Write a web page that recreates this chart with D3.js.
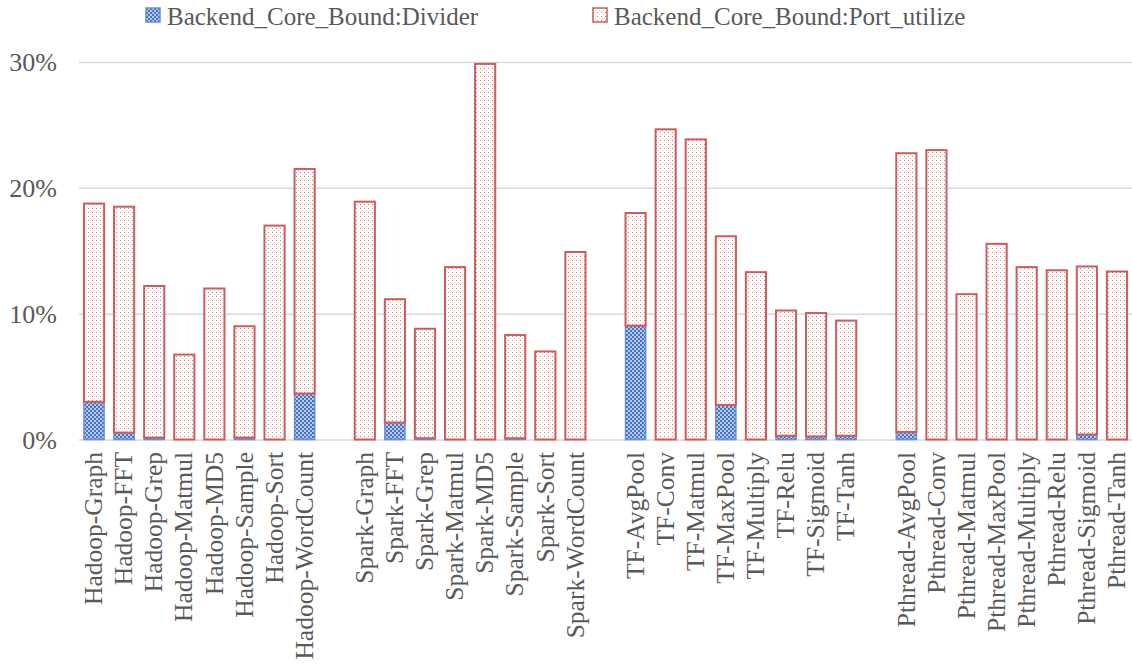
<!DOCTYPE html>
<html>
<head>
<meta charset="utf-8">
<script src="https://cdn.jsdelivr.net/npm/d3@7"></script>
<style>
    body { margin: 0; background: #fff; }
</style>
</head>
<body>
<svg id="chart"></svg>
<script>
// categories, one array per framework (a blank slot goes between groups)
const hadoopCats = ["Hadoop-Graph", "Hadoop-FFT", "Hadoop-Grep", "Hadoop-Matmul", "Hadoop-MD5", "Hadoop-Sample", "Hadoop-Sort", "Hadoop-WordCount"];
const sparkCats = ["Spark-Graph", "Spark-FFT", "Spark-Grep", "Spark-Matmul", "Spark-MD5", "Spark-Sample", "Spark-Sort", "Spark-WordCount"];
const tfCats = ["TF-AvgPool", "TF-Conv", "TF-Matmul", "TF-MaxPool", "TF-Multiply", "TF-Relu", "TF-Sigmoid", "TF-Tanh"];
const pthreadCats = ["Pthread-AvgPool", "Pthread-Conv", "Pthread-Matmul", "Pthread-MaxPool", "Pthread-Multiply", "Pthread-Relu", "Pthread-Sigmoid", "Pthread-Tanh"];

// values in percent, same order as the categories above
const dividerValues = [
    3.0, 0.55, 0.15, 0, 0, 0.15, 0, 3.65,
    0, 1.35, 0.1, 0, 0, 0.1, 0, 0,
    9.05, 0, 0, 2.75, 0, 0.3, 0.25, 0.3,
    0.6, 0, 0, 0, 0, 0, 0.4, 0
];
const portValues = [
    15.75, 17.95, 12.05, 6.75, 12.0, 8.85, 17.0, 17.85,
    18.9, 9.8, 8.7, 13.7, 29.85, 8.2, 7.0, 14.9,
    8.95, 24.65, 23.85, 13.4, 13.3, 9.95, 9.8, 9.15,
    22.15, 23.0, 11.55, 15.55, 13.7, 13.45, 13.35, 13.35
];

const seriesKeys = ["divider", "port"];
const seriesNames = ["Backend_Core_Bound:Divider", "Backend_Core_Bound:Port_utilize"];
const yTicks = [0, 10, 20, 30];

const width = 1132, height = 669;
const serif = '"Liberation Serif", "Times New Roman", serif';
const textColor = "#595959";

const groups = [hadoopCats, sparkCats, tfCats, pthreadCats];
const categories = groups.flat();
const domain = groups.flatMap((g, i) => i < groups.length - 1 ? [...g, "gap" + i] : g);

const table = categories.map((c, i) => ({ name: c, divider: dividerValues[i], port: portValues[i] }));
const stacked = d3.stack().keys(seriesKeys)(table);

const svg = d3.select("#chart")
    .attr("width", width)
    .attr("height", height)
    .attr("viewBox", `0 0 ${width} ${height}`);

// fill patterns
const defs = svg.append("defs");
const blue = defs.append("pattern")
    .attr("id", "pat-divider")
    .attr("width", 4).attr("height", 4)
    .attr("patternUnits", "userSpaceOnUse");
blue.append("rect").attr("width", 4).attr("height", 4).attr("fill", "#b9cbea");
blue.append("rect").attr("width", 2).attr("height", 2).attr("fill", "#4472c4");
blue.append("rect").attr("x", 2).attr("y", 2).attr("width", 2).attr("height", 2).attr("fill", "#4472c4");

const red = defs.append("pattern")
    .attr("id", "pat-port")
    .attr("width", 4).attr("height", 4)
    .attr("patternUnits", "userSpaceOnUse");
red.append("rect").attr("width", 4).attr("height", 4).attr("fill", "#fff");
red.append("rect").attr("width", 1).attr("height", 1).attr("fill", "#e27a7a");
red.append("rect").attr("x", 2).attr("y", 2).attr("width", 1).attr("height", 1).attr("fill", "#f6cfcf");

const fills = { divider: "url(#pat-divider)", port: "url(#pat-port)" };
const strokes = { divider: "#6a90d2", port: "#cd5c5c" };

const x = d3.scaleBand()
    .domain(domain)
    .range([79, 1132])
    .paddingInner(0.33)
    .paddingOuter(0.165);

const y = d3.scaleLinear()
    .domain([0, 30])
    .range([439.5, 62]);

// gridlines + y labels
const yAxis = svg.append("g")
    .attr("transform", "translate(79,0)")
    .call(d3.axisLeft(y).tickValues(yTicks).tickSize(-(1132 - 79)).tickFormat(d => d + "%"));
yAxis.select(".domain").remove();
yAxis.selectAll(".tick line").attr("stroke", "#d9d9d9").attr("stroke-width", 1.5);
yAxis.selectAll(".tick text")
    .attr("x", -22)
    .attr("dy", "0.34em")
    .style("font-family", serif)
    .style("font-size", "26px")
    .style("fill", textColor);

// bars
svg.append("g")
    .selectAll("g")
    .data(stacked)
    .join("g")
    .attr("fill", d => fills[d.key])
    .attr("stroke", d => strokes[d.key])
    .attr("stroke-width", d => d.key === "port" ? 2 : 1.5)
    .selectAll("rect")
    .data(d => d.filter(s => s[1] - s[0] > 0))
    .join("rect")
    .attr("x", d => x(d.data.name))
    .attr("y", d => y(d[1]))
    .attr("width", x.bandwidth())
    .attr("height", d => y(d[0]) - y(d[1]));

// category labels
svg.append("g")
    .selectAll("text")
    .data(categories)
    .join("text")
    .attr("transform", d => `translate(${x(d) + x.bandwidth() / 2},452) rotate(-90)`)
    .attr("text-anchor", "end")
    .attr("dy", "0.32em")
    .style("font-family", serif)
    .style("font-size", "25.5px")
    .style("fill", textColor)
    .text(d => d);

// legend
const legendX = [146, 593];
const legend = svg.append("g")
    .selectAll("g")
    .data(seriesKeys)
    .join("g")
    .attr("transform", (d, i) => `translate(${legendX[i]},8)`);
legend.append("rect")
    .attr("width", 14).attr("height", 14)
    .attr("fill", d => fills[d])
    .attr("stroke", d => strokes[d])
    .attr("stroke-width", 1.5);
legend.append("text")
    .attr("x", 21)
    .attr("y", 8)
    .attr("dy", "0.34em")
    .style("font-family", serif)
    .style("font-size", "25px")
    .style("fill", textColor)
    .text((d, i) => seriesNames[i]);
</script>
</body>
</html>
